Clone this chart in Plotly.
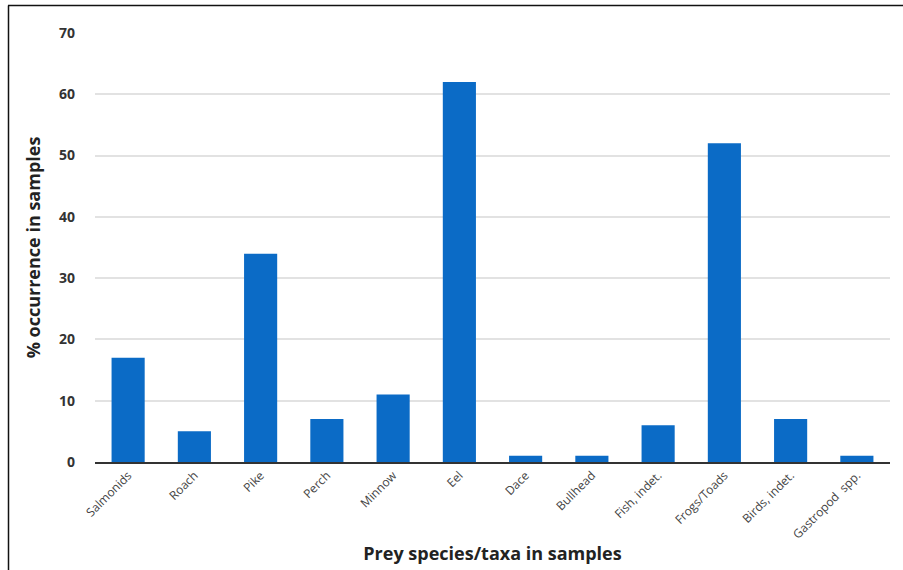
import plotly.graph_objects as go

categories = ["Salmonids", "Roach", "Pike", "Perch", "Minnow", "Eel", "Dace",
              "Bullhead", "Fish, indet.", "Frogs/Toads", "Birds, indet.", "Gastropod  spp."]
values = [17, 5, 34, 7, 11, 62, 1, 1, 6, 52, 7, 1]
y_ticks = [0, 10, 20, 30, 40, 50, 60, 70]

L, T, R, B = 95, 33, 13, 108
W, H = 903, 570
pw, ph = W - L - R, H - T - B

fig = go.Figure(go.Bar(x=categories, y=values, marker=dict(color="#0b6bc6", line=dict(width=0)), width=0.5))

fig.update_layout(
    width=W, height=H,
    margin=dict(l=L, r=R, t=T, b=B, autoexpand=False),
    paper_bgcolor="white", plot_bgcolor="white",
    font=dict(family="Open Sans", color="#333"),
    showlegend=False,
    xaxis=dict(
        tickangle=-45, tickfont=dict(size=12, color="#444"),
        showline=True, linecolor="#333", linewidth=1.5,
        ticks="", showgrid=False, automargin=False,
        title=dict(text="Prey species/taxa in samples", font=dict(size=18, color="#222", weight="bold"), standoff=6),
    ),
    yaxis=dict(
        range=[0, 70], tickvals=y_ticks, automargin=False,
        tickfont=dict(size=14, color="#333", family="Open Sans", weight="bold"),
        ticklabelstandoff=19,
        showgrid=True, gridcolor="#e2e2e2", gridwidth=1.5,
        zeroline=False, showline=False,
        title=dict(text="% occurrence in samples", font=dict(size=18, color="#222", weight="bold"), standoff=13),
    ),
    shapes=[
        dict(type="line", xref="paper", yref="paper", x0=-(L-8)/pw, x1=1.2, y0=(H-B-5.5)/ph, y1=(H-B-5.5)/ph,
             line=dict(color="#111", width=1.5)),
        dict(type="line", xref="paper", yref="paper", x0=-(L-8.5)/pw, x1=-(L-8.5)/pw, y0=-1, y1=(H-B-5.5)/ph,
             line=dict(color="#111", width=1.5)),
    ],
)

fig.write_html("out.html", config={"displayModeBar": False},
               post_script="document.body.style.margin='0';")
